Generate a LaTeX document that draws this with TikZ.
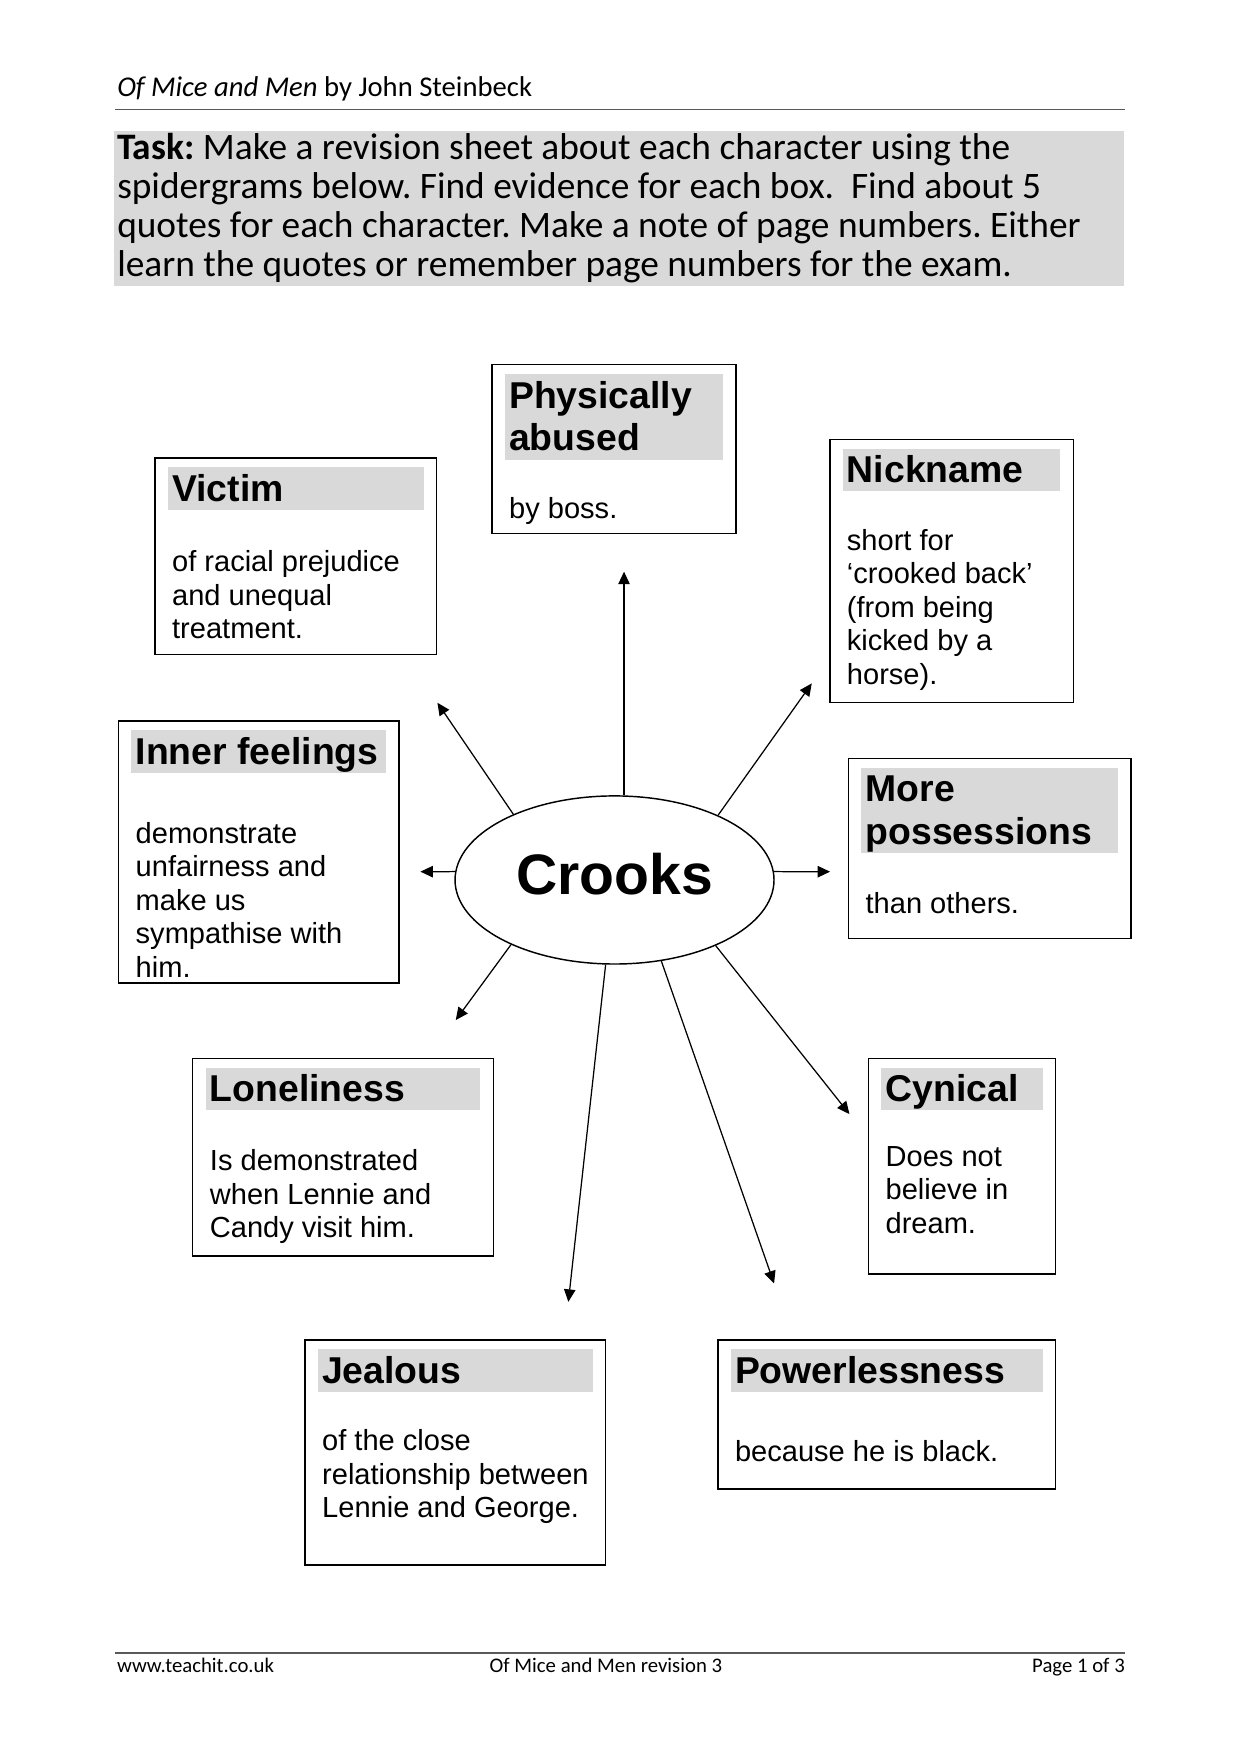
\documentclass[tikz,border=0pt]{standalone}
\usepackage{fontspec}
\setmainfont{Liberation Sans}
\newfontfamily\gill{Carlito}
\usepackage{tikz}
\usetikzlibrary{positioning, calc}
\usetikzlibrary{shapes.geometric, fit, arrows.meta}
\definecolor{bargray}{gray}{0.85}
\definecolor{rulegray}{gray}{0.35}
\frenchspacing
\newcommand{\boxlines}[1]{\begin{tabular}[t]{@{}l@{}}#1\end{tabular}}
\newcommand{\charbox}[7]{
    \coordinate (#1nw) at (#2);
    \coordinate (#1se) at (#3);
    \node[charframe, fit=(#1nw)(#1se)] (#1) {};
    \coordinate (#1bara) at ($(#1nw)+(11.5,8.2)$);
    \coordinate (#1barb) at ($(#1se |- #1nw)+(-11.5,{8.2+38.3*#4})$);
    \node[titlebar, fit=(#1bara)(#1barb)] (#1bar) {};
    \node[titletext] (#1title) at ($(#1nw)+(15,38.7)$) {\boxlines{#5}};
    \node[bodytext] (#1body) at ($(#1nw)+(15,#6)$) {\boxlines{#7}};
}
\tikzset{
    charframe/.style={draw, line width=0.7pt, inner sep=0pt},
    titlebar/.style={fill=bargray, inner sep=0pt},
    titletext/.style={anchor=base west, inner sep=0pt, font=\bfseries\fontsize{18}{20.5}\selectfont},
    bodytext/.style={anchor=base west, inner sep=0pt, font=\fontsize{14}{16.16}\selectfont},
    hub/.style={ellipse, draw, line width=0.7pt, minimum width=153.7pt, minimum height=81pt, inner sep=0pt, text depth=5.5pt, font=\bfseries\fontsize{27.5}{33}\selectfont},
    spoke/.style={-{Triangle[length=6pt,width=5.5pt]}, line width=0.6pt},
    gilltext/.style={inner sep=0pt, font=\gill\fontsize{#1}{#1}\selectfont},
}
\begin{document}
\begin{tikzpicture}[x=0.018936cm, y=-0.018936cm]
    \fill[white] (0,0) rectangle (1109,1568.7);
    \useasboundingbox (0,0) rectangle (1109,1568.7);
    % header
    \node[gilltext=13.8, anchor=base west] (head) at (104.5,86.5) {\textit{Of Mice and Men} by John Steinbeck};
    \draw[rulegray, line width=0.65pt] (103,97.8) -- (1006,97.8);
    \fill[bargray] (102.4,116.9) rectangle (1005,255.5);
    \node[gilltext=18, anchor=base west] (task) at (104.5,142.5) {\fontsize{18}{18.8}\selectfont\boxlines{\textbf{Task:} Make a revision sheet about each character using the\\
        spidergrams below. Find evidence for each box.\ \ Find about 5\\
        quotes for each character. Make a note of page numbers. Either\\
        learn the quotes or remember page numbers for the exam.}};
    % boxes
    \charbox{abused}{440,326.2}{658.3,477.3}{2}{Physically\\ abused}{137.4}{by boss.}
    \charbox{victim}{138.6,409.7}{390.6,585.5}{1}{Victim}{101.7}{of racial prejudice\\ and unequal\\ treatment.}
    \charbox{nickname}{742.1,393}{959.9,628.2}{1}{Nickname}{99}{short for\\ ‘crooked back’\\ (from being\\ kicked by a\\ horse).}
    \charbox{inner}{106,645}{357,879}{1}{Inner feelings}{109}{demonstrate\\ unfairness and\\ make us\\ sympathise with\\ him.}
    \charbox{more}{758.8,678.3}{1011.3,839.3}{2}{More\\ possessions}{138.6}{than others.}
    \charbox{lonely}{172.4,946.6}{441.2,1123.4}{1}{Loneliness}{100.5}{Is demonstrated\\ when Lennie and\\ Candy visit him.}
    \charbox{cynical}{776.7,946.6}{944,1139.5}{1}{Cynical}{96.4}{Does not\\ believe in\\ dream.}
    \charbox{jealous}{272.8,1198.6}{541.7,1399.8}{1}{Jealous}{99}{of the close\\ relationship between\\ Lennie and George.}
    \charbox{powerless}{642,1198.6}{944,1331.8}{1}{Powerlessness}{108.4}{because he is black.}
    % centre and spokes
    \node[hub] (crooks) at (549.6,787) {Crooks};
    \coordinate (eup) at (558.1,511.3);
    \coordinate (evictim) at (391.2,628.5);
    \coordinate (enick) at (726,611.2);
    \coordinate (eleft) at (376,779.6);
    \coordinate (eright) at (742.4,779.6);
    \coordinate (elonely) at (407.6,912.3);
    \coordinate (ejeal) at (508.3,1164.3);
    \coordinate (epower) at (692.3,1147.9);
    \coordinate (ecyn) at (759.7,996.4);
    \draw[spoke] (crooks.north -| eup) -- (eup);
    \draw[spoke] (crooks.147.7) -- (evictim);
    \draw[spoke] (crooks.32.4) -- (enick);
    \draw[spoke] (crooks.177) -- (eleft);
    \draw[spoke] (crooks.3) -- (eright);
    \draw[spoke] (crooks.212.7) -- (elonely);
    \draw[spoke] (crooks.264) -- (ejeal);
    \draw[spoke] (crooks.300.5) -- (epower);
    \draw[spoke] (crooks.327.6) -- (ecyn);
    % footer
    \draw[rulegray, line width=0.65pt] (103,1478.3) -- (1006.3,1478.3);
    \node[gilltext=10, anchor=base west] (site) at (104.4,1496) {www.teachit.co.uk};
    \node[gilltext=10, anchor=base] (doc) at (541.9,1496) {Of Mice and Men revision 3};
    \node[gilltext=10, anchor=base east] (page) at (1006.3,1496) {Page 1 of 3};
\end{tikzpicture}
\end{document}
